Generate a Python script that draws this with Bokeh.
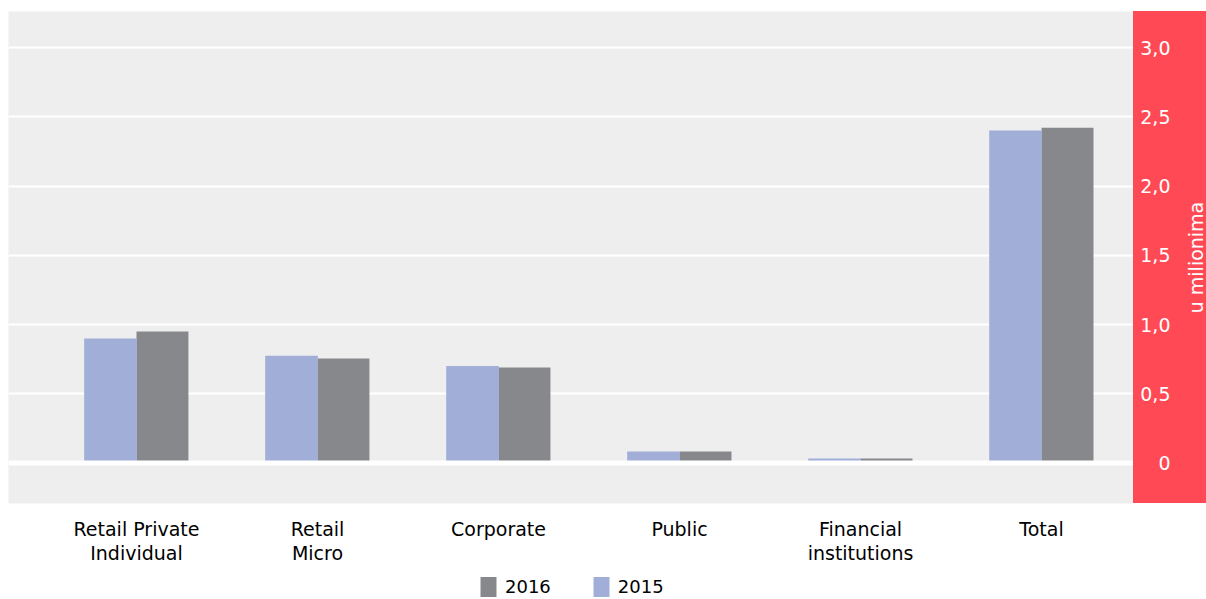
import math
from bokeh.plotting import figure
from bokeh.layouts import row, column
from bokeh.models import (ColumnDataSource, FixedTicker, Span, Legend, LegendItem,
                          Range1d, Spacer)
from bokeh.core.properties import value
from bokeh.embed import file_html
from bokeh.resources import INLINE

categories = ["Retail Private\nIndividual", "Retail\nMicro", "Corporate", "Public",
              "Financial\ninstitutions", "Total"]
values_2015 = [0.90, 0.775, 0.70, 0.083, 0.032, 2.40]
values_2016 = [0.95, 0.755, 0.69, 0.083, 0.032, 2.42]
y_ticks = [0, 0.5, 1.0, 1.5, 2.0, 2.5, 3.0]
y_tick_labels = ["0", "0,5", "1,0", "1,5", "2,0", "2,5", "3,0"]
series_names = ["2016", "2015"]
y_title = "u milionima"

FONT = "DejaVu Sans"
C2015 = "#A0AED8"
C2016 = "#87888C"
RED = "#FF4A55"

xs = list(range(len(categories)))
bw = 0.287
src = ColumnDataSource(dict(
    x15=[x - bw / 2 for x in xs],
    x16=[x + bw / 2 for x in xs],
    v15=values_2015,
    v16=values_2016,
))

yr = Range1d(-0.292, 3.26)

# main chart
p = figure(frame_width=1125, frame_height=492, output_backend="svg", toolbar_location=None,
           x_range=(-0.707, 5.508), y_range=yr, y_axis_location=None,
           min_border_left=8, min_border_top=11, min_border_right=0, min_border_bottom=70)
p.outline_line_color = None
p.background_fill_color = "#EEEEEE"
p.border_fill_color = "white"

p.vbar(x="x16", top="v16", width=bw, source=src, fill_color=C2016, line_color=None)
p.vbar(x="x15", top="v15", width=bw + 0.004, source=src, fill_color=C2015, line_color=None)

p.xgrid.grid_line_color = None
p.ygrid.grid_line_color = "white"
p.ygrid.grid_line_width = 2
p.ygrid.ticker = FixedTicker(ticks=y_ticks)
p.add_layout(Span(location=0, dimension="width", line_color="white", line_width=5))

xa = p.xaxis[0]
xa.ticker = FixedTicker(ticks=xs)
xa.major_label_overrides = {i: c for i, c in enumerate(categories)}
xa.axis_line_color = None
xa.major_tick_line_color = None
xa.minor_tick_line_color = None
xa.major_label_text_font = FONT
xa.major_label_text_font_size = "19px"
xa.major_label_text_color = "black"
xa.major_label_text_line_height = 1.13
xa.major_label_standoff = 8

# red value-axis panel
q = figure(frame_width=28, frame_height=492, output_backend="svg", toolbar_location=None,
           x_range=(0, 28), y_range=yr, x_axis_location=None, y_axis_location="left",
           min_border_left=45, min_border_right=0, min_border_top=0, min_border_bottom=0)
q.outline_line_color = None
q.background_fill_color = RED
q.border_fill_color = RED
q.styles = {"background-color": RED}
q.grid.grid_line_color = None

qa = q.yaxis[0]
qa.ticker = FixedTicker(ticks=y_ticks)
qa.major_label_overrides = {t: l for t, l in zip(y_ticks, y_tick_labels)}
qa.axis_line_color = None
qa.major_tick_line_color = None
qa.minor_tick_line_color = None
qa.major_label_text_font = FONT
qa.major_label_text_font_size = "19px"
qa.major_label_text_color = "white"
qa.major_label_standoff = 2

q.text(x=[17], y=[(yr.start + yr.end) / 2], text=[y_title], angle=math.pi / 2,
       text_align="center", text_baseline="middle", text_color="white",
       text_font=value(FONT), text_font_size="19px")

# legend strip (its renderers reuse the data but lie outside its visible range)
lg = figure(frame_width=1206, frame_height=26, output_backend="svg", toolbar_location=None,
            x_range=(100, 101), y_range=(100, 101), x_axis_location=None, y_axis_location=None,
            min_border_left=0, min_border_right=0, min_border_top=0, min_border_bottom=0)
lg.outline_line_color = None
lg.background_fill_color = "white"
lg.border_fill_color = "white"
lg.grid.grid_line_color = None
d16 = lg.vbar(x="x16", top="v16", width=bw, source=src, fill_color=C2016, line_color=None)
d15 = lg.vbar(x="x15", top="v15", width=bw, source=src, fill_color=C2015, line_color=None)

legend = Legend(items=[LegendItem(label=series_names[0], renderers=[d16]),
                       LegendItem(label=series_names[1], renderers=[d15])],
                orientation="horizontal", location=(478, 0),
                label_text_font=FONT, label_text_font_size="18px", label_text_color="black",
                label_standoff=7,
                glyph_width=20, glyph_height=25, spacing=40, padding=0, margin=0,
                border_line_color=None, background_fill_alpha=0)
lg.add_layout(legend, "center")

top = row(p, column(Spacer(height=11, width=73), q, spacing=0), spacing=0)
layout = column(top, lg, spacing=0)

open("out.html", "w").write(file_html(layout, INLINE))
